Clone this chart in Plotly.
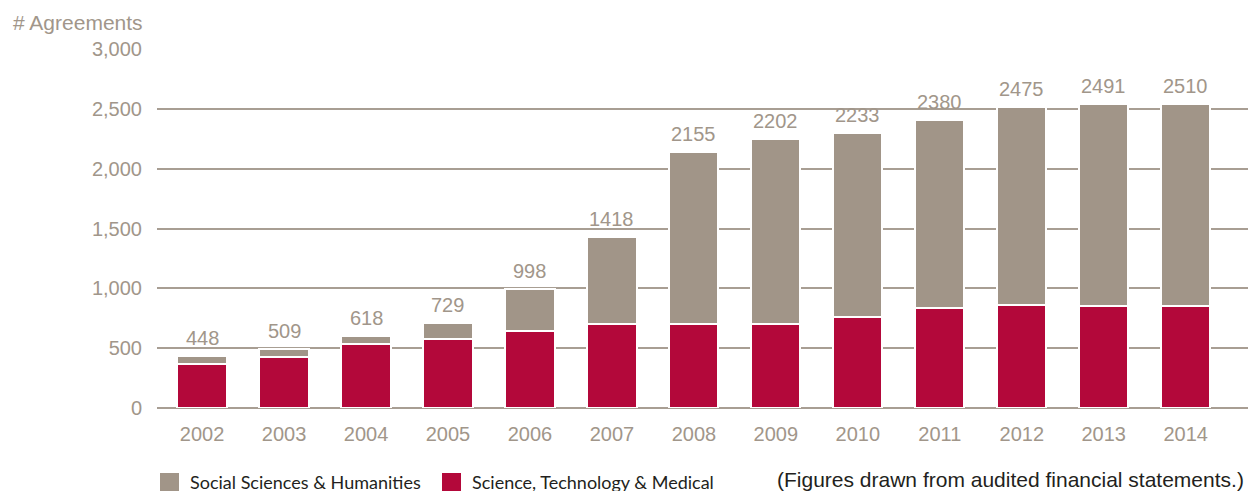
import plotly.graph_objects as go

# ── Data ──────────────────────────────────────────────────────────────────────

years = ["2002", "2003", "2004", "2005", "2006", "2007", "2008",
         "2009", "2010", "2011", "2012", "2013", "2014"]
stm_values = [370, 430, 535, 578, 645, 705, 705, 705, 765, 840, 860, 855, 855]
ssh_values = [68, 64, 67, 136, 351, 727, 1438, 1550, 1540, 1568, 1659, 1692, 1692]
total_labels = ["448", "509", "618", "729", "998", "1418", "2155",
                "2202", "2233", "2380", "2475", "2491", "2510"]
y_ticks = [0, 500, 1000, 1500, 2000, 2500, 3000]
y_tick_text = ["0", "500", "1,000", "1,500", "2,000", "2,500", "3,000"]

# ── Style ─────────────────────────────────────────────────────────────────────

GREY = "#A19588"
RED = "#B3083A"
TEXT_GREY = "#A1968A"
GRID = "#A89E93"
FONT = "Liberation Sans, Arial, sans-serif"
W, H = 1248, 491
L, T, B = 157, 49, 83


def px_x(p):
    return (p - L) / (W - L)


def px_y(p):
    return (H - B - p) / (H - B - T)


fig = go.Figure()
fig.add_trace(go.Bar(x=years, y=stm_values, name="Science, Technology & Medical",
                     marker=dict(color=RED, line=dict(color="white", width=2))))
fig.add_trace(go.Bar(x=years, y=ssh_values, name="Social Sciences & Humanities",
                     marker=dict(color=GREY, line=dict(color="white", width=2))))

annotations = []
# category axis: position annotations by index, "2002" would be read as a number
for i, (stm, ssh, label) in enumerate(zip(stm_values, ssh_values, total_labels)):
    annotations.append(dict(x=i, y=stm + ssh, text=label, showarrow=False,
                            yanchor="bottom", yshift=5,
                            font=dict(family=FONT, size=20, color=TEXT_GREY)))

annotations.append(dict(x=px_x(11), y=px_y(22), xref="paper", yref="paper", text="# Agreements",
                        showarrow=False, xanchor="left", yanchor="middle",
                        font=dict(family=FONT, size=21, color=TEXT_GREY)))
annotations.append(dict(x=px_x(1246), y=px_y(479), xref="paper", yref="paper",
                        text="(Figures drawn from audited financial statements.)",
                        showarrow=False, xanchor="right", yanchor="middle",
                        font=dict(family=FONT, size=21, color="#231F20")))

# custom legend (bigger swatches than plotly's own)
legend_items = [(160, "Social Sciences & Humanities", GREY), (442, "Science, Technology & Medical", RED)]
shapes = []
for left, text, color in legend_items:
    shapes.append(dict(type="rect", xref="paper", yref="paper", x0=px_x(left), x1=px_x(left + 19),
                       y0=px_y(473), y1=px_y(493), fillcolor=color, line=dict(width=0)))
    annotations.append(dict(x=px_x(left + 28), y=px_y(482), xref="paper", yref="paper", text=text,
                            showarrow=False, xanchor="left", yanchor="middle",
                            font=dict(family="Lato, sans-serif", size=18, color="#231F20")))

fig.update_layout(
    barmode="stack",
    bargap=0.4,
    width=W,
    height=H,
    margin=dict(l=L, r=0, t=T, b=B),
    paper_bgcolor="white",
    plot_bgcolor="white",
    showlegend=False,
    annotations=annotations,
    shapes=shapes,
    font=dict(family=FONT, size=20, color=TEXT_GREY),
)
fig.update_xaxes(type="category", range=[-0.55, 12.76], showgrid=False, showline=False,
                 ticks="", ticklabelstandoff=12, tickfont=dict(size=20, color=TEXT_GREY))
fig.update_yaxes(range=[0, 3004], tickvals=y_ticks, ticktext=y_tick_text, showgrid=True,
                 gridcolor=GRID, gridwidth=1.5, zeroline=True, zerolinecolor=GRID, zerolinewidth=1.5,
                 showline=False, ticks="", ticklabelstandoff=14, tickfont=dict(size=20, color=TEXT_GREY))

fig.write_html("out.html", config={"displayModeBar": False},
               post_script="document.body.style.margin='0';")
